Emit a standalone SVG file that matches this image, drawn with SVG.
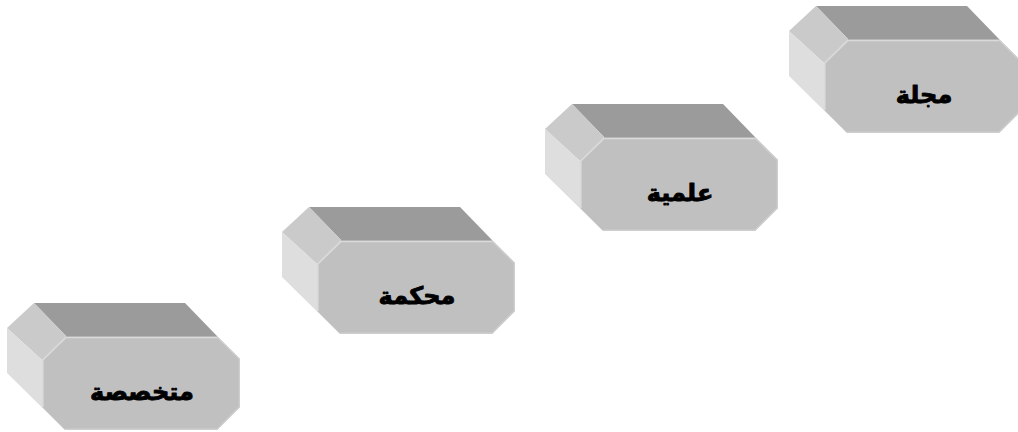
<svg xmlns="http://www.w3.org/2000/svg" xmlns:xlink="http://www.w3.org/1999/xlink" width="1018" height="432" viewBox="0 0 1018 432">
  <style>
    .top{fill:#9b9b9b}
    .bevel{fill:#cacaca}
    .left{fill:#dedede}
    .front{fill:#c0c0c0}
    .hl{fill:none;stroke:#dadada;stroke-width:1.6;stroke-linejoin:miter}
    .rim{fill:none;stroke:#cecece;stroke-width:1.4}
    .seam{fill:none;stroke:#aaaaaa;stroke-width:1}
    .lbl{font-family:"DejaVu Sans",sans-serif;font-weight:bold;font-size:24px;fill:#000;stroke:#000;stroke-width:0.9;stroke-linejoin:round;text-anchor:middle}
  </style>
  <defs>
    <g id="prism">
      <polygon class="top" points="34,303 185,303 217,336 66,336"/>
      <polygon class="bevel" points="7,328 34,303 66,336 42,360"/>
      <polygon class="left" points="7,328 42,360 42,407 65,430 7,373"/>
      <polygon class="front" points="66,336 217,336 240,359 240,407 217,430 65,430 42,407 42,360"/>
      <polyline class="seam" points="66,336.5 217,336.5"/>
      <polyline class="hl" points="42.8,407 42.8,360 66,337.5 217,337.5"/>
      <polyline class="rim" points="217,337 239.3,359 239.3,407 217,429.3 65,429.3"/>
    </g>
  </defs>
  <g id="node-mutakhassisa">
    <use xlink:href="#prism" href="#prism"/>
    <text class="lbl" x="142" y="400" direction="rtl">متخصصة</text>
  </g>
  <g id="node-muhakkama" transform="translate(275,-96)">
    <use xlink:href="#prism" href="#prism"/>
    <text class="lbl" x="142" y="400" direction="rtl">محكمة</text>
  </g>
  <g id="node-ilmiyya" transform="translate(538,-199)">
    <use xlink:href="#prism" href="#prism"/>
    <text class="lbl" x="142" y="400" direction="rtl">علمية</text>
  </g>
  <g id="node-majalla" transform="translate(782,-297)">
    <use xlink:href="#prism" href="#prism"/>
    <text class="lbl" x="142" y="400" direction="rtl">مجلة</text>
  </g>
</svg>
